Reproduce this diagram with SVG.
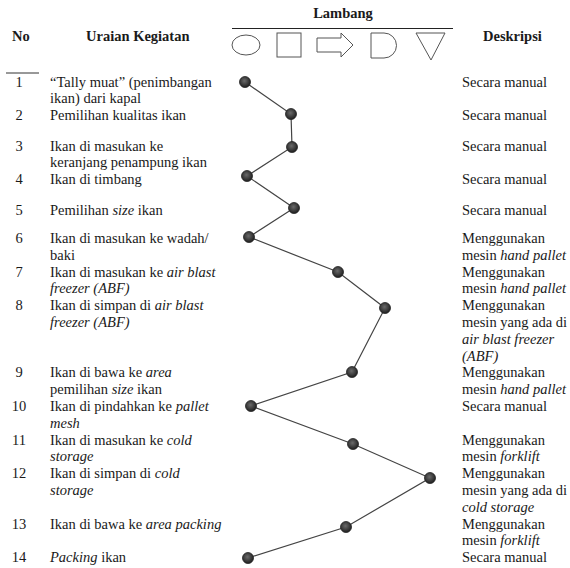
<svg xmlns="http://www.w3.org/2000/svg" width="570" height="568" viewBox="0 0 570 568" font-family="'Liberation Serif', 'Times New Roman', 'DejaVu Serif', serif">
<defs>
<radialGradient id="g" cx="0.45" cy="0.4" r="0.6">
<stop offset="0" stop-color="#6a6a6a"/>
<stop offset="1" stop-color="#1e1e1e"/>
</radialGradient>
</defs>
<style>
text{font-family:'Liberation Serif','Times New Roman','DejaVu Serif',serif;font-size:14.5px;fill:#1a1a1a}
.h{font-weight:bold}
.n{text-anchor:middle}
.i{font-style:italic}
.sym{fill:none;stroke:#555;stroke-width:1}
.dot{fill:url(#g);stroke:#222;stroke-width:0.8}
.con{fill:none;stroke:#444;stroke-width:1.2}
</style>
<rect width="570" height="568" fill="#fff"/>
<g id="header">
<text class="h" x="12" y="41">No</text>
<text class="h" x="86" y="41">Uraian Kegiatan</text>
<text class="h" x="343" y="18" text-anchor="middle">Lambang</text>
<line x1="232" y1="28.5" x2="453" y2="28.5" stroke="#222" stroke-width="1.2"/>
<ellipse class="sym" cx="246" cy="45" rx="14" ry="10"/>
<rect class="sym" x="277" y="33" width="24" height="24"/>
<path class="sym" d="M317,38 H341 V33 L353,45 L341,57 V52 H317 Z"/>
<path class="sym" d="M371,33 H384 A12.5,12.5 0 0 1 384,58 H371 Z"/>
<path class="sym" d="M416,33 H445 L431,60 Z"/>
<text class="h" x="483" y="41">Deskripsi</text>
<line x1="6" y1="73" x2="39" y2="73" stroke="#333" stroke-width="1"/>
</g>
<g id="connectors">
<polyline class="con" points="245,82 291,114 292,147 247,176 294,208 249,237 338,272 385,308 352,372 251,406 353,444 430,478 346,527 248,558"/>
</g>
<g id="row1">
<text class="n" x="19" y="86.5">1</text>
<text x="50" y="86.5">“Tally  muat” (penimbangan</text>
<text x="50" y="103">ikan) dari kapal</text>
<circle class="dot" cx="245" cy="82" r="5.5"/>
<text x="462" y="86.5">Secara manual</text>
</g>
<g id="row2">
<text class="n" x="19" y="120">2</text>
<text x="50" y="120">Pemilihan kualitas ikan</text>
<circle class="dot" cx="291" cy="114" r="5.5"/>
<text x="462" y="120">Secara manual</text>
</g>
<g id="row3">
<text class="n" x="19" y="150.5">3</text>
<text x="50" y="150.5">Ikan di masukan ke</text>
<text x="50" y="167">keranjang penampung ikan</text>
<circle class="dot" cx="292" cy="147" r="5.5"/>
<text x="462" y="150.5">Secara manual</text>
</g>
<g id="row4">
<text class="n" x="19" y="183.5">4</text>
<text x="50" y="183.5">Ikan di timbang</text>
<circle class="dot" cx="247" cy="176" r="5.5"/>
<text x="462" y="183.5">Secara manual</text>
</g>
<g id="row5">
<text class="n" x="19" y="214.5">5</text>
<text x="50" y="214.5">Pemilihan <tspan class="i">size</tspan> ikan</text>
<circle class="dot" cx="294" cy="208" r="5.5"/>
<text x="462" y="214.5">Secara manual</text>
</g>
<g id="row6">
<text class="n" x="19" y="243">6</text>
<text x="50" y="243">Ikan di masukan ke wadah/</text>
<text x="50" y="259.8">baki</text>
<circle class="dot" cx="249" cy="237" r="5.5"/>
<text x="462" y="243">Menggunakan</text>
<text x="462" y="259.8">mesin <tspan class="i">hand pallet</tspan></text>
</g>
<g id="row7">
<text class="n" x="19" y="276.6">7</text>
<text x="50" y="276.6">Ikan di masukan ke <tspan class="i">air blast</tspan></text>
<text class="i" x="50" y="293.4">freezer (ABF)</text>
<circle class="dot" cx="338" cy="272" r="5.5"/>
<text x="462" y="276.6">Menggunakan</text>
<text x="462" y="293.4">mesin <tspan class="i">hand pallet</tspan></text>
</g>
<g id="row8">
<text class="n" x="19" y="310.2">8</text>
<text x="50" y="310.2">Ikan di simpan di <tspan class="i">air blast</tspan></text>
<text class="i" x="50" y="327">freezer (ABF)</text>
<circle class="dot" cx="385" cy="308" r="5.5"/>
<text x="462" y="310.2">Menggunakan</text>
<text x="462" y="327">mesin yang ada di</text>
<text class="i" x="462" y="343.8">air blast freezer</text>
<text class="i" x="462" y="360.6">(ABF)</text>
</g>
<g id="row9">
<text class="n" x="19" y="377.4">9</text>
<text x="50" y="377.4">Ikan di bawa ke <tspan class="i">area</tspan></text>
<text x="50" y="394.2">pemilihan <tspan class="i">size</tspan> ikan</text>
<circle class="dot" cx="352" cy="372" r="5.5"/>
<text x="462" y="377.4">Menggunakan</text>
<text x="462" y="394.2">mesin <tspan class="i">hand pallet</tspan></text>
</g>
<g id="row10">
<text class="n" x="19" y="411">10</text>
<text x="50" y="411">Ikan di pindahkan ke <tspan class="i">pallet</tspan></text>
<text class="i" x="50" y="427.8">mesh</text>
<circle class="dot" cx="251" cy="406" r="5.5"/>
<text x="462" y="411">Secara manual</text>
</g>
<g id="row11">
<text class="n" x="19" y="444.6">11</text>
<text x="50" y="444.6">Ikan di masukan ke <tspan class="i">cold</tspan></text>
<text class="i" x="50" y="461.4">storage</text>
<circle class="dot" cx="353" cy="444" r="5.5"/>
<text x="462" y="444.6">Menggunakan</text>
<text x="462" y="461.4">mesin <tspan class="i">forklift</tspan></text>
</g>
<g id="row12">
<text class="n" x="19" y="478.2">12</text>
<text x="50" y="478.2">Ikan di simpan di <tspan class="i">cold</tspan></text>
<text class="i" x="50" y="495">storage</text>
<circle class="dot" cx="430" cy="478" r="5.5"/>
<text x="462" y="478.2">Menggunakan</text>
<text x="462" y="495">mesin yang ada di</text>
<text class="i" x="462" y="511.8">cold storage</text>
</g>
<g id="row13">
<text class="n" x="19" y="528.6">13</text>
<text x="50" y="528.6">Ikan di bawa ke <tspan class="i">area packing</tspan></text>
<circle class="dot" cx="346" cy="527" r="5.5"/>
<text x="462" y="528.6">Menggunakan</text>
<text x="462" y="545.4">mesin <tspan class="i">forklift</tspan></text>
</g>
<g id="row14">
<text class="n" x="19" y="562">14</text>
<text x="50" y="562"><tspan class="i">Packing</tspan> ikan</text>
<circle class="dot" cx="248" cy="558" r="5.5"/>
<text x="462" y="562">Secara manual</text>
</g>
</svg>
